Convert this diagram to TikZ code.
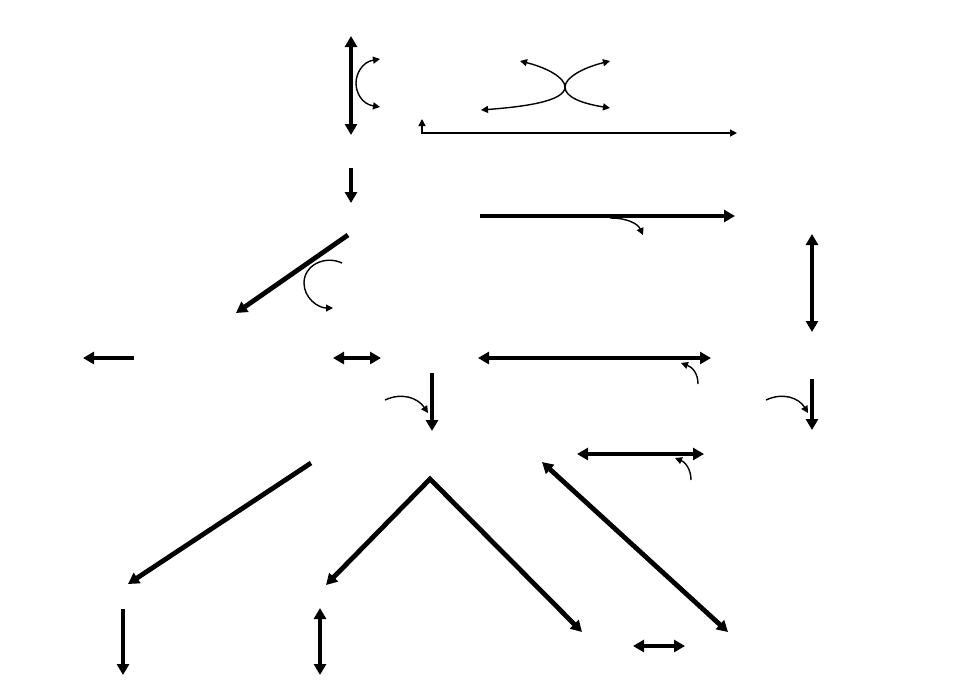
\documentclass[tikz,border=0pt]{standalone}
\usetikzlibrary{arrows.meta}
\tikzset{
  fat/.style={line width=2.4pt, >={Triangle[length=5.5pt,width=6pt]}},
  slim/.style={line width=0.7pt, >={Triangle[length=3.5pt,width=3.5pt]}},
}

\begin{document}
\begin{tikzpicture}[x=0.5pt,y=-0.5pt]
    \useasboundingbox (0,0) rectangle (960,698);
    % top block
    \coordinate (va) at (351,36);
    \coordinate (vb) at (351,135);
    \coordinate (ca) at (380,59);
    \coordinate (cb) at (356,83);
    \coordinate (cc) at (380,107);
    \coordinate (xl) at (520,61);
    \coordinate (xm) at (565,87);
    \coordinate (xll) at (481,110);
    \coordinate (xr) at (610,61);
    \coordinate (xrr) at (610,108);
    \coordinate (la) at (422,119);
    \coordinate (lb) at (737,133);
    \draw[fat,<->] (va) -- (vb);
    \draw[slim,<->] (ca) .. controls (362,62) and (356,74) .. (cb)
      .. controls (356,93) and (362,104) .. (cc);
    \draw[slim,<->] (xl) .. controls (548,68) and (565,78) .. (xm)
      .. controls (565,102) and (520,107) .. (xll);
    \draw[slim,<->] (xr) .. controls (582,68) and (565,78) .. (xm)
      .. controls (565,98) and (585,104) .. (xrr);
    \draw[slim,<->] (la) |- (lb);

    % second row
    \coordinate (da) at (351,168);
    \coordinate (db) at (351,203);
    \coordinate (ra) at (480,216);
    \coordinate (rb) at (735,216);
    \coordinate (qa) at (610,218);
    \coordinate (qb) at (643,235);
    \coordinate (ga) at (348,235);
    \coordinate (gb) at (236,313);
    \coordinate (ha) at (342,263);
    \coordinate (hb) at (333,308);
    \coordinate (sa) at (812,234);
    \coordinate (sb) at (812,332);
    \draw[fat,->] (da) -- (db);
    \draw[fat,->] (ra) -- (rb);
    \draw[slim,->] (qa) .. controls (628,218) and (638,224) .. (qb);
    \draw[fat,->] (ga) -- (gb);
    \draw[slim,->] (ha) .. controls (325,255) and (304,265) .. (304,283)
      .. controls (304,298) and (318,308) .. (hb);
    \draw[fat,<->] (sa) -- (sb);

    % middle row
    \coordinate (ka) at (134,358);
    \coordinate (kb) at (83,358);
    \coordinate (ma) at (333,358);
    \coordinate (mb) at (381,358);
    \coordinate (na) at (478,358);
    \coordinate (nb) at (711,358);
    \coordinate (pa) at (698,384);
    \coordinate (pb) at (681,363);
    \coordinate (ta) at (432,373);
    \coordinate (tb) at (432,431);
    \coordinate (ua) at (385,400);
    \coordinate (ub) at (428,413);
    \coordinate (wa) at (812,379);
    \coordinate (wb) at (812,430);
    \coordinate (ya) at (766,400);
    \coordinate (yb) at (808,413);
    \draw[fat,->] (ka) -- (kb);
    \draw[fat,<->] (ma) -- (mb);
    \draw[fat,<->] (na) -- (nb);
    \draw[slim,->] (pa) .. controls (698,373) and (692,367) .. (pb);
    \draw[fat,->] (ta) -- (tb);
    \draw[slim,->] (ua) .. controls (402,392) and (418,398) .. (ub);
    \draw[fat,->] (wa) -- (wb);
    \draw[slim,->] (ya) .. controls (783,392) and (799,398) .. (yb);

    % lower block
    \coordinate (za) at (577,454);
    \coordinate (zb) at (704,454);
    \coordinate (ea) at (691,480);
    \coordinate (eb) at (675,458);
    \coordinate (fa) at (311,463);
    \coordinate (fb) at (128,584);
    \coordinate (apx) at (430,479);
    \coordinate (al) at (326,585);
    \coordinate (ar) at (582,632);
    \coordinate (ja) at (542,462);
    \coordinate (jb) at (728,632);
    \coordinate (oa) at (633,646);
    \coordinate (ob) at (685,646);
    \coordinate (ba) at (123,609);
    \coordinate (bb) at (123,675);
    \coordinate (ia) at (320,608);
    \coordinate (ib) at (320,675);
    \draw[fat,<->] (za) -- (zb);
    \draw[slim,->] (ea) .. controls (691,469) and (685,462) .. (eb);
    \draw[fat,->] (fa) -- (fb);
    \draw[fat,<->] (al) -- (apx) -- (ar);
    \draw[fat,<->] (ja) -- (jb);
    \draw[fat,<->] (oa) -- (ob);
    \draw[fat,->] (ba) -- (bb);
    \draw[fat,<->] (ia) -- (ib);
\end{tikzpicture}
\end{document}
